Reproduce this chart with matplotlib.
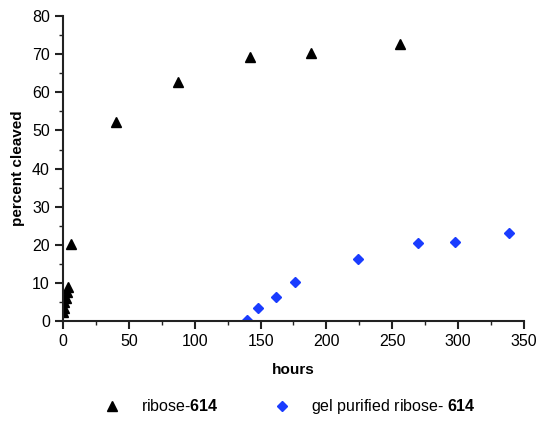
import numpy as np
import matplotlib
matplotlib.use("Agg")
import matplotlib.pyplot as plt
from matplotlib.ticker import MultipleLocator

plt.rcParams['font.family'] = ['Liberation Sans', 'DejaVu Sans']
plt.rcParams['mathtext.fontset'] = 'custom'
plt.rcParams['mathtext.rm'] = 'Liberation Sans'
plt.rcParams['mathtext.bf'] = 'Liberation Sans:bold'

# ribose-614
ribose_hours = [0, 0.5, 1, 2, 3, 4, 6, 40, 87, 142, 188, 256]
ribose_pct = [2.5, 3.5, 5, 6, 7.5, 9, 20.3, 52.3, 62.8, 69.2, 70.2, 72.6]

# gel purified ribose-614
gel_hours = [140, 148, 161.5, 176.5, 224, 269.5, 297.5, 339]
gel_pct = [0.3, 3.3, 6.4, 10.2, 16.3, 20.5, 20.8, 23.0]

fig = plt.figure(figsize=(5.39, 4.23), dpi=100)
ax = fig.add_axes([0.117, 0.241, 0.855, 0.721])

ax.plot(ribose_hours, ribose_pct, linestyle='none', marker='^', color='black',
        markersize=7.5, label=r'ribose-$\mathbf{614}$')
ax.plot(gel_hours, gel_pct, linestyle='none', marker='D', color='#1a3cff',
        markersize=5.5, label=r'gel purified ribose- $\mathbf{614}$')

ax.set_xlim(0, 350)
ax.set_ylim(0, 80)
ax.xaxis.set_major_locator(MultipleLocator(50))
ax.xaxis.set_minor_locator(MultipleLocator(25))
ax.yaxis.set_major_locator(MultipleLocator(10))
ax.yaxis.set_minor_locator(MultipleLocator(5))
for s in ['top', 'right']:
    ax.spines[s].set_visible(False)
for s in ['left', 'bottom']:
    ax.spines[s].set_linewidth(1.5)
    ax.spines[s].set_color('#222222')
ax.tick_params(which='major', length=6, width=1.5, labelsize=11.5, color='#222222')
ax.tick_params(which='minor', length=3, width=1, color='#222222')
for sp in ax.spines.values():
    sp.set_clip_on(False)

ax.set_xlabel('hours', fontsize=11, fontweight='bold', labelpad=10)
ax.set_ylabel('percent cleaved', fontsize=11, fontweight='bold', labelpad=5)

fig.legend(loc='center', bbox_to_anchor=(0.53, 0.038), ncol=2, frameon=False,
           fontsize=11.5, handletextpad=0.8, columnspacing=3.0)

fig.savefig('out.png', dpi=100)
